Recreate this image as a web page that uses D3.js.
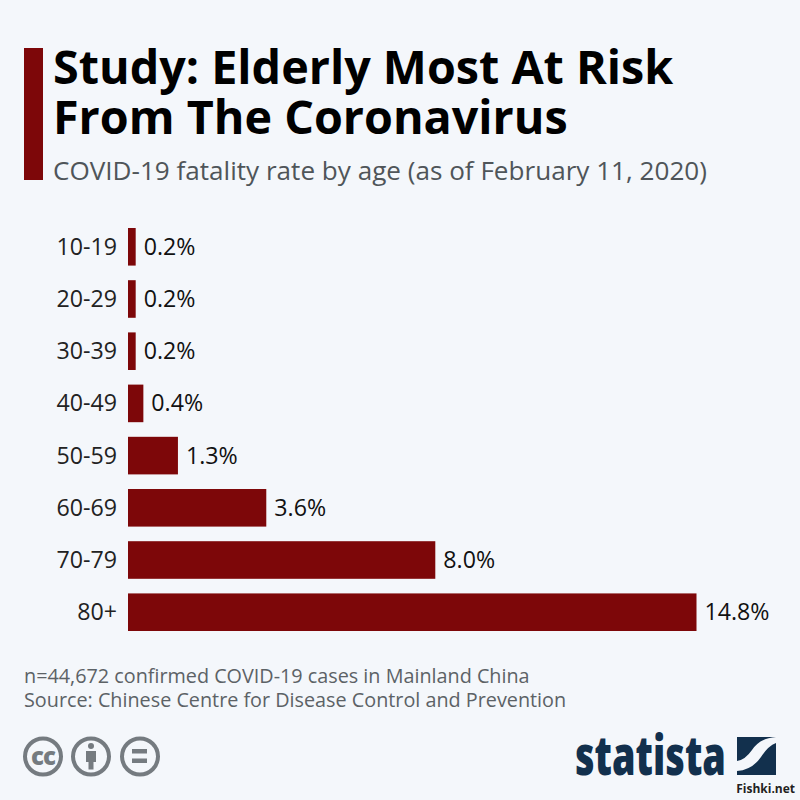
<!DOCTYPE html>
<html><head><meta charset="utf-8">
<script src="https://cdn.jsdelivr.net/npm/d3@7/dist/d3.min.js"></script>
<style>html,body{margin:0;padding:0;background:#f4f7fb}svg{display:block}text{font-family:"Open Sans",sans-serif}</style>
</head><body><svg id="c" width="800" height="800"></svg>
<script>
const categories=["10-19","20-29","30-39","40-49","50-59","60-69","70-79","80+"];
const values=[0.2,0.2,0.2,0.4,1.3,3.6,8.0,14.8];
const titleLines=["Study: Elderly Most At Risk","From The Coronavirus"];
const subtitle="COVID-19 fatality rate by age (as of February 11, 2020)";
const notes=["n=44,672 confirmed COVID-19 cases in Mainland China","Source: Chinese Centre for Disease Control and Prevention"];
const red="#7d0709",grey="#757b80",navy="#12304d";
const svg=d3.select("#c");
svg.append("rect").attr("width",800).attr("height",800).attr("fill","#f4f7fb");
svg.append("rect").attr("x",24).attr("y",48).attr("width",19).attr("height",132).attr("fill",red);
svg.selectAll("text.t").data(titleLines).join("text").attr("class","t").attr("x",53).attr("y",(d,i)=>[84,134][i])
 .attr("font-size",46.7).attr("font-weight",700).attr("fill","#000").text(d=>d);
svg.append("text").attr("x",53).attr("y",180).attr("font-size",26.1).attr("fill","#4f5559").text(subtitle);
const x=d3.scaleLinear().domain([0,14.8]).range([128,696.5]);
const y=d3.scaleBand().domain(categories).range([228,631]).paddingInner(0.28);
const g=svg.append("g");
g.selectAll("rect").data(values).join("rect").attr("x",x(0)).attr("y",(d,i)=>y(categories[i]))
 .attr("width",d=>x(d)-x(0)).attr("height",y.bandwidth()).attr("fill",red);
g.selectAll("text.v").data(values).join("text").attr("class","v").attr("x",d=>x(d)+8)
 .attr("y",(d,i)=>y(categories[i])+y.bandwidth()/2+8).attr("font-size",23.2).attr("fill","#111").text(d=>d.toFixed(1)+"%");
g.selectAll("text.c").data(categories).join("text").attr("class","c").attr("x",117).attr("text-anchor","end")
 .attr("y",d=>y(d)+y.bandwidth()/2+8).attr("font-size",23.2).attr("fill","#222").text(d=>d);
svg.selectAll("text.n").data(notes).join("text").attr("class","n").attr("x",24).attr("y",(d,i)=>[683,707][i])
 .attr("font-size",19.8).attr("fill","#5c6266").text(d=>d);
// CC icons
const icons=svg.append("g");
[43,91,140].forEach(cx=>icons.append("circle").attr("cx",cx).attr("cy",756.5).attr("r",18).attr("fill","none").attr("stroke",grey).attr("stroke-width",4));
icons.append("text").attr("x",43).attr("y",765).attr("text-anchor","middle").attr("font-size",24).attr("font-weight",800).attr("fill",grey).attr("letter-spacing",-1).text("cc");
icons.append("circle").attr("cx",91).attr("cy",746).attr("r",3).attr("fill",grey);
icons.append("path").attr("fill",grey).attr("d","M86 751h10v11h-2.5v7.5h-5V762H86z");
icons.append("rect").attr("x",132).attr("y",749).attr("width",15).attr("height",4.5).attr("fill",grey);
icons.append("rect").attr("x",132).attr("y",758.5).attr("width",15).attr("height",4.5).attr("fill",grey);
// logo
const logo=svg.append("text").attr("font-size",54).attr("font-weight",800).attr("fill",navy).text("statista");
const logoScale=151/logo.node().getComputedTextLength();
logo.attr("transform",`translate(575,775) scale(${logoScale},1)`);
svg.append("path").attr("fill",navy).attr("d","M737 737H776L776 737Q760 738 752 750Q745 760 737 761Z");
svg.append("path").attr("fill",navy).attr("d","M776 743V775H737V771Q752 770 761 757Q768 746 776 743Z");
// watermark
svg.append("text").attr("x",795).attr("y",793).attr("text-anchor","end").attr("font-size",12).attr("font-weight",700).attr("fill","#222").attr("stroke","#fff").attr("stroke-width",0.6).attr("paint-order","stroke").text("Fishki.net");
</script></body></html>
